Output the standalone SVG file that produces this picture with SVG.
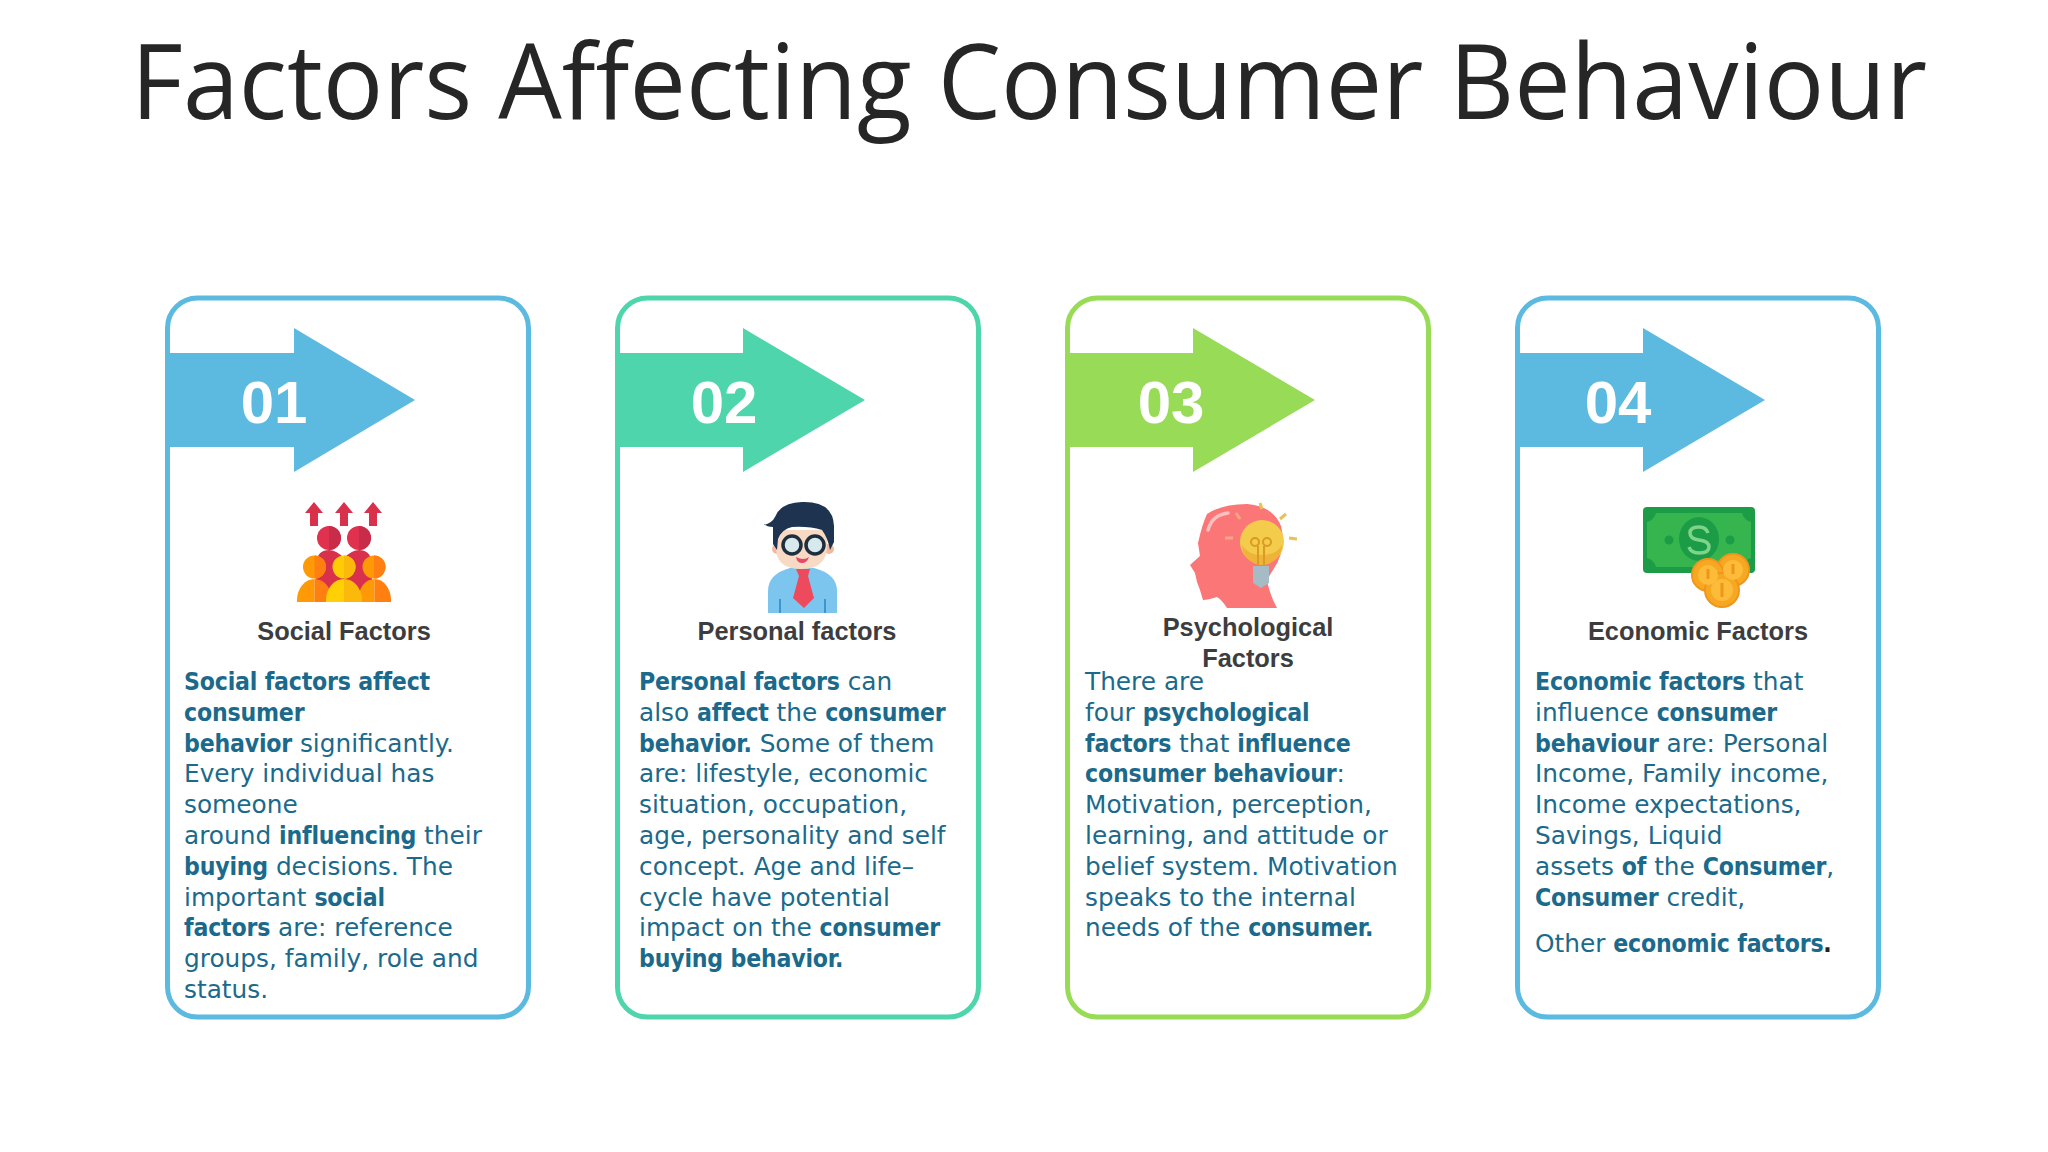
<svg xmlns="http://www.w3.org/2000/svg" width="2048" height="1152" viewBox="0 0 2048 1152">
<style>
.title{font-family:"Open Sans","Noto Sans",sans-serif;font-size:104px;fill:#262626}
.card{fill:#fff;stroke-width:5}
.num{font-family:"Liberation Sans",Arial,sans-serif;font-weight:700;font-size:60px;fill:#fff;text-anchor:middle}
.lab{font-family:"Liberation Sans",Arial,sans-serif;font-weight:700;font-size:25.400px;fill:#3d3d40;text-anchor:middle}
.b{font-family:"DejaVu Sans",sans-serif;font-size:24.800px;fill:#1b6a8c}
.k{font-family:"DejaVu Sans Condensed","DejaVu Sans",sans-serif;font-stretch:condensed;font-size:24.600px;font-weight:700;letter-spacing:-.2px}
</style>
<rect width="2048" height="1152" fill="#fff"/>
<text class="title" x="131" y="118.500" textLength="1796" lengthAdjust="spacingAndGlyphs">Factors Affecting Consumer Behaviour</text>
<g id="card1">
<rect class="card" x="167.500" y="298" width="361" height="719" rx="30" stroke="#5cb9e0"/>
<path d="M167 353H294V328L415 400L294 472V447H167Z" fill="#5cb9e0"/>
<text class="num" x="274" y="423">01</text>
<g id="icon1">
<path d="M314 502l9 11h-5v13h-8v-13h-5zM344 502l9 11h-5v13h-8v-13h-5zM373 502l9 11h-5v13h-8v-13h-5z" fill="#d9304c"/>
<circle cx="329" cy="538" r="12" fill="#e0314f"/><circle cx="359" cy="538" r="12" fill="#e0314f"/>
<path d="M329 526a12 12 0 0 1 0 24zM359 526a12 12 0 0 1 0 24z" fill="#c92c48"/>
<path d="M316 562q2-12 13-12 7 0 15 8 8-8 15-8 11 0 13 12v34h-56z" fill="#d9304c"/>
<circle cx="314.500" cy="567" r="11.500" fill="#ff9a06"/><circle cx="344" cy="567" r="11.500" fill="#ffcb06"/><circle cx="374" cy="567" r="11.500" fill="#ff9a06"/>
<path d="M314.500 555.500a11.500 11.500 0 0 1 0 23zM374 555.500a11.500 11.500 0 0 1 0 23z" fill="#ff7f10"/>
<path d="M344 555.500a11.500 11.500 0 0 1 0 23z" fill="#fbb90c"/>
<path d="M297 602v-2a17.500 21 0 0 1 17.500-21v23z" fill="#ff9a06"/><path d="M314.500 602v-23a17.500 21 0 0 1 17.500 21v2z" fill="#ff7f10"/>
<path d="M358 602v-2a16.500 21 0 0 1 16.500-21v23z" fill="#ff9a06"/><path d="M374.500 602v-23a16.500 21 0 0 1 16.500 21v2z" fill="#ff7f10"/>
<path d="M326 602v-2a18 21 0 0 1 18-21v23z" fill="#ffd006"/><path d="M344 602v-23a18 21 0 0 1 18 21v2z" fill="#fbb90c"/>
</g>
<text class="lab" x="344" y="639.500">Social Factors</text>
<text class="b"><tspan class="k" x="184" y="690">Social factors affect</tspan><tspan class="k" x="184" y="721">consumer</tspan><tspan class="k" x="184" y="752">behavior</tspan> significantly.<tspan x="184" y="782">Every individual has</tspan><tspan x="184" y="813">someone</tspan><tspan x="184" y="844">around </tspan><tspan class="k">influencing</tspan> their<tspan class="k" x="184" y="875">buying</tspan> decisions. The<tspan x="184" y="906">important </tspan><tspan class="k">social</tspan><tspan class="k" x="184" y="936">factors</tspan> are: reference<tspan x="184" y="967">groups, family, role and</tspan><tspan x="184" y="998">status.</tspan></text>
</g>
<g id="card2">
<rect class="card" x="617.500" y="298" width="361" height="719" rx="30" stroke="#4fd5ab"/>
<path d="M617 353H743V328L865 400L743 472V447H617Z" fill="#4fd5ab"/>
<text class="num" x="724" y="423">02</text>
<g id="icon2">
<path d="M768 613v-22q0-17 22-23h24q23 6 23 23v22z" fill="#7cc5ee"/>
<path d="M780 613v-14M825 613v-14" stroke="#3f94c9" stroke-width="2"/>
<path d="M796 569h14l-2 7 6 22-10 10-11-10 6-22z" fill="#ee4a5e"/>
<circle cx="777" cy="549" r="5" fill="#f2b8a0"/><circle cx="829" cy="549" r="5" fill="#f2b8a0"/>
<path d="M776 530h51v19q-2 20-26 20-24 0-25-20z" fill="#f7d9c4"/>
<path d="M764 525q8-2 11-8 5-14 27-15 31-1 32 24v16l-4 8q-2-12-8-20-13-4-30-3-10 2-14 12l-1 11-4-6v-17q-6 0-9-3z" fill="#1e3350"/>
<circle cx="792" cy="545" r="9" fill="#d8e9ee" stroke="#1e2e3c" stroke-width="3.500"/><circle cx="815" cy="545" r="9" fill="#d8e9ee" stroke="#1e2e3c" stroke-width="3.500"/>
<path d="M796 557q8 4 13 0-2 6-7 6-5 0-6-6z" fill="#e8486a"/>
</g>
<text class="lab" x="797" y="639.500">Personal factors</text>
<text class="b"><tspan class="k" x="639" y="690">Personal factors</tspan> can<tspan x="639" y="721">also </tspan><tspan class="k">affect</tspan> the <tspan class="k">consumer</tspan><tspan class="k" x="639" y="752">behavior.</tspan> Some of them<tspan x="639" y="782">are: lifestyle, economic</tspan><tspan x="639" y="813">situation, occupation,</tspan><tspan x="639" y="844">age, personality and self</tspan><tspan x="639" y="875">concept. Age and life–</tspan><tspan x="639" y="906">cycle have potential</tspan><tspan x="639" y="936">impact on the </tspan><tspan class="k">consumer</tspan><tspan class="k" x="639" y="967">buying behavior.</tspan></text>
</g>
<g id="card3">
<rect class="card" x="1067.500" y="298" width="361" height="719" rx="30" stroke="#98db57"/>
<path d="M1067 353H1193V328L1315 400L1193 472V447H1067Z" fill="#98db57"/>
<text class="num" x="1171" y="423">03</text>
<g id="icon3">
<path d="M1207 514Q1222 504 1247 504Q1273 506 1281 526Q1287 550 1273 570Q1266 580 1268 585Q1271 597 1277 608H1227Q1222 600 1217 597Q1208 600 1203 600L1200 590L1197 582L1195 573L1190 565L1200 556L1198 543Q1202 525 1207 514Z" fill="#fb7677"/>
<path d="M1208 530Q1212 515 1228 513" stroke="#fbbfbf" stroke-width="3.500" fill="none" stroke-linecap="round"/>
<path d="M1225 538h8M1236 513l4 6" stroke="#f7a68a" stroke-width="3" fill="none"/>
<circle cx="1262" cy="542" r="22" fill="#f4cc4b"/>
<path d="M1242 545a20 20 0 0 0 40 0q-6 10-20 10-14 0-20-10z" fill="#eeb43a"/>
<path d="M1253 566h16v17l-8 5-8-5z" fill="#a5bcc6"/>
<circle cx="1255" cy="542" r="4" fill="none" stroke="#d99a26" stroke-width="2"/><circle cx="1267" cy="542" r="4" fill="none" stroke="#d99a26" stroke-width="2"/>
<path d="M1258 546v20M1264 546v20" stroke="#d99a26" stroke-width="2" fill="none"/>
<path d="M1260 503l2 6M1286 514l-6 5M1297 539l-8-1" stroke="#eac158" stroke-width="3" fill="none"/>
</g>
<text class="lab" x="1248" y="635.500">Psychological</text><text class="lab" x="1248" y="666.500">Factors</text>
<text class="b"><tspan x="1085" y="690">There are</tspan><tspan x="1085" y="721">four </tspan><tspan class="k">psychological</tspan><tspan class="k" x="1085" y="752">factors</tspan> that <tspan class="k">influence</tspan><tspan class="k" x="1085" y="782">consumer behaviour</tspan>:<tspan x="1085" y="813">Motivation, perception,</tspan><tspan x="1085" y="844">learning, and attitude or</tspan><tspan x="1085" y="875">belief system. Motivation</tspan><tspan x="1085" y="906">speaks to the internal</tspan><tspan x="1085" y="936">needs of the </tspan><tspan class="k">consumer.</tspan></text>
</g>
<g id="card4">
<rect class="card" x="1517.500" y="298" width="361" height="719" rx="30" stroke="#5cb9e0"/>
<path d="M1517 353H1643V328L1765 400L1643 472V447H1517Z" fill="#5cb9e0"/>
<text class="num" x="1618" y="423">04</text>
<g id="icon4">
<rect x="1643" y="507" width="112" height="66" rx="4" fill="#1d9c48"/>
<path d="M1656 513h86q2 7 9 9v36q-7 2-9 9h-86q-2-7-9-9v-36q7-2 9-9z" fill="#36b54f"/>
<ellipse cx="1699" cy="539" rx="20" ry="22" fill="#1d9c48"/>
<circle cx="1669" cy="540" r="4.500" fill="#1d9c48"/><circle cx="1730" cy="540" r="4.500" fill="#1d9c48"/>
<path d="M1708 533q-2-6-9-6-9 0-9 6 0 6 9 7 10 1 10 7 0 6-10 6-8 0-10-6" fill="none" stroke="#7ed58a" stroke-width="3.500"/>
<g fill="#f7a823" stroke="#f0961a" stroke-width="2"><circle cx="1733" cy="570" r="16"/><circle cx="1708" cy="575" r="16"/><circle cx="1722" cy="590" r="17"/></g>
<g fill="#fdbb3a"><circle cx="1733" cy="570" r="10"/><circle cx="1708" cy="575" r="10"/><circle cx="1722" cy="590" r="11"/></g>
<path d="M1722 583v14M1733 564v10M1708 569v10" stroke="#ee9618" stroke-width="3"/>
</g>
<text class="lab" x="1698" y="639.500">Economic Factors</text>
<text class="b"><tspan class="k" x="1535" y="690">Economic factors</tspan> that<tspan x="1535" y="721">influence </tspan><tspan class="k">consumer</tspan><tspan class="k" x="1535" y="752">behaviour</tspan> are: Personal<tspan x="1535" y="782">Income, Family income,</tspan><tspan x="1535" y="813">Income expectations,</tspan><tspan x="1535" y="844">Savings, Liquid</tspan><tspan x="1535" y="875">assets </tspan><tspan class="k">of</tspan> the <tspan class="k">Consumer</tspan>,<tspan class="k" x="1535" y="906">Consumer</tspan> credit,<tspan x="1535" y="952">Other </tspan><tspan class="k">economic factors</tspan><tspan class="k" fill="#222">.</tspan></text>
</g>
</svg>
